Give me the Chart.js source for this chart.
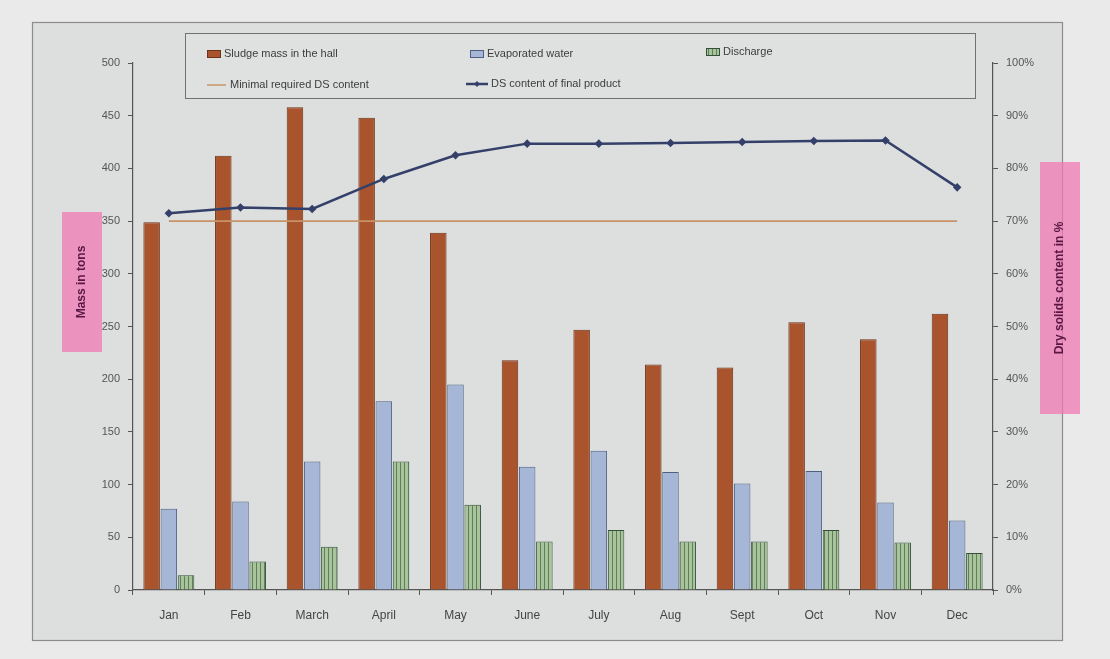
<!DOCTYPE html>
<html>
<head>
<meta charset="utf-8">
<script src="https://cdn.jsdelivr.net/npm/chart.js@4.4.1/dist/chart.umd.min.js"></script>
<style>
html,body{margin:0;padding:0;background:#e6e8e7;}
#wrap{position:relative;width:1110px;height:659px;}
canvas{display:block;}
</style>
</head>
<body>
<div id="wrap"><canvas id="c" width="1110" height="659"></canvas></div>
<script>
const categories = ["Jan","Feb","March","April","May","June","July","Aug","Sept","Oct","Nov","Dec"];
const sludgeMass = [349, 412, 458, 448, 339, 218, 247, 214, 211, 254, 238, 262];
const evaporatedWater = [77, 84, 122, 179, 195, 117, 132, 112, 101, 113, 83, 66];
const discharge = [14, 27, 41, 122, 81, 46, 57, 46, 46, 57, 45, 35];
const minRequiredDS = [70, 70, 70, 70, 70, 70, 70, 70, 70, 70, 70, 70];
const dsFinalProduct = [71.5, 72.6, 72.3, 78, 82.5, 84.7, 84.7, 84.8, 85, 85.2, 85.3, 76.4];
const massTicks = [0, 50, 100, 150, 200, 250, 300, 350, 400, 450, 500];
const pctTicks = [0, 10, 20, 30, 40, 50, 60, 70, 80, 90, 100];

function stripePattern(){
  const p = document.createElement('canvas');
  p.width = 4; p.height = 4;
  const g = p.getContext('2d');
  g.fillStyle = '#a9c49c'; g.fillRect(0,0,4,4);
  g.fillStyle = '#5f7f58'; g.fillRect(0,0,1,4);
  return g.createPattern(p,'repeat');
}
const greenPat = stripePattern();

const FONT = '"Liberation Sans", Arial, sans-serif';

const decor = {
  id:'decor',
  beforeDraw(chart){
    const ctx = chart.ctx;
    ctx.save();
    ctx.fillStyle = '#e9eae9';
    ctx.fillRect(0,0,1110,659);
    ctx.fillStyle = '#dcdfde';
    ctx.fillRect(32,22,1030,618);
    ctx.strokeStyle = '#8a8d8c';
    ctx.lineWidth = 1.2;
    ctx.strokeRect(32.5,22.5,1030,618);
    ctx.fillStyle = '#dfe1e0';
    ctx.fillRect(185,33,790,65);
    ctx.strokeStyle = '#6f7271';
    ctx.lineWidth = 1;
    ctx.strokeRect(185.5,33.5,790,65);
    ctx.fillStyle = 'rgba(240,120,180,0.75)';
    ctx.fillRect(62,212,40,140);
    ctx.fillRect(1040,162,40,252);
    ctx.restore();
  },
  afterDraw(chart){
    const ctx = chart.ctx;
    const ds = chart.data.datasets;
    ctx.save();
    ctx.font = '11px ' + FONT;
    ctx.textBaseline = 'middle';
    const sw = (x,y,fill,stroke,label)=>{
      ctx.fillStyle = fill; ctx.fillRect(x,y-4,14,8);
      ctx.strokeStyle = stroke; ctx.lineWidth=1; ctx.strokeRect(x+0.5,y-3.5,13,7);
      ctx.fillStyle = '#3c3c3c'; ctx.fillText(label,x+17,y);
    };
    sw(207,54,ds[0].backgroundColor,ds[0].borderColor,ds[0].label);
    sw(470,54,ds[1].backgroundColor,ds[1].borderColor,ds[1].label);
    sw(706,52,greenPat,ds[2].borderColor,ds[2].label);
    ctx.strokeStyle = ds[3].borderColor; ctx.lineWidth = 1.5;
    ctx.beginPath(); ctx.moveTo(207,85); ctx.lineTo(226,85); ctx.stroke();
    ctx.fillStyle = '#3c3c3c'; ctx.fillText(ds[3].label,230,85);
    ctx.strokeStyle = ds[4].borderColor; ctx.lineWidth = 2.5;
    ctx.beginPath(); ctx.moveTo(466,84); ctx.lineTo(488,84); ctx.stroke();
    ctx.fillStyle = ds[4].borderColor;
    ctx.beginPath(); ctx.moveTo(477,81); ctx.lineTo(480,84); ctx.lineTo(477,87); ctx.lineTo(474,84); ctx.closePath(); ctx.fill();
    ctx.fillStyle = '#3c3c3c'; ctx.fillText(ds[4].label,491,84);
    ctx.fillStyle = '#5a1745';
    ctx.font = 'bold 12px ' + FONT;
    ctx.textAlign = 'center';
    ctx.translate(82,282); ctx.rotate(-Math.PI/2);
    ctx.fillText('Mass in tons',0,0);
    ctx.setTransform(1,0,0,1,0,0);
    ctx.translate(1060,288); ctx.rotate(-Math.PI/2);
    ctx.fillText('Dry solids content in %',0,0);
    ctx.restore();
  }
};

new Chart(document.getElementById('c'), {
  type:'bar',
  data:{
    labels: categories,
    datasets:[
      {type:'bar',label:'Sludge mass in the hall',data:sludgeMass,backgroundColor:'#a9542c',borderColor:'#6e3218',borderWidth:1,yAxisID:'y',order:2,categoryPercentage:0.72,barPercentage:0.96},
      {type:'bar',label:'Evaporated water',data:evaporatedWater,backgroundColor:'#a5b6d6',borderColor:'#4f5f84',borderWidth:1,yAxisID:'y',order:2,categoryPercentage:0.72,barPercentage:0.96},
      {type:'bar',label:'Discharge',data:discharge,backgroundColor:greenPat,borderColor:'#34503a',borderWidth:1,yAxisID:'y',order:2,categoryPercentage:0.72,barPercentage:0.96},
      {type:'line',label:'Minimal required DS content',data:minRequiredDS,borderColor:'#c99369',borderWidth:1.8,pointRadius:0,yAxisID:'y1',order:1,tension:0},
      {type:'line',label:'DS content of final product',data:dsFinalProduct,borderColor:'#35406a',backgroundColor:'#35406a',borderWidth:2.5,pointStyle:'rectRot',pointRadius:2.5,yAxisID:'y1',order:0,tension:0}
    ]
  },
  options:{
    responsive:false,
    animation:false,
    layout:{padding:{top:63,left:0,right:0,bottom:0}},
    plugins:{legend:{display:false},tooltip:{enabled:false}},
    scales:{
      x:{
        grid:{display:true,drawOnChartArea:false,drawTicks:true,tickLength:5,color:'#555',offset:true},
        border:{display:true,color:'#555',width:1.2},
        ticks:{color:'#444',font:{family:FONT,size:12},padding:13,maxRotation:0},
        afterFit(s){s.height=69;}
      },
      y:{
        position:'left',min:0,max:500,
        afterBuildTicks(s){s.ticks = massTicks.map(v=>({value:v}));},
        grid:{drawOnChartArea:false,drawTicks:true,tickLength:5,color:'#555'},
        border:{display:true,color:'#555',width:1.2},
        ticks:{color:'#555',font:{family:FONT,size:11},padding:8},
        afterFit(s){s.width=133;}
      },
      y1:{
        position:'right',min:0,max:100,
        afterBuildTicks(s){s.ticks = pctTicks.map(v=>({value:v}));},
        grid:{drawOnChartArea:false,drawTicks:true,tickLength:5,color:'#555'},
        border:{display:true,color:'#555',width:1.2},
        ticks:{color:'#555',font:{family:FONT,size:11},padding:8,callback:v=>v+'%'},
        afterFit(s){s.width=117;}
      }
    }
  },
  plugins:[decor]
});
</script>
</body>
</html>
